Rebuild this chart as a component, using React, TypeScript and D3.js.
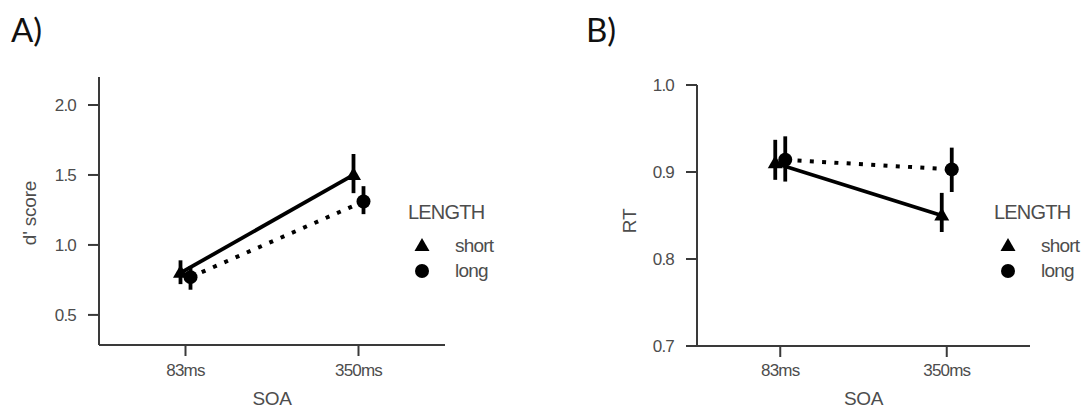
import React from "react";
import * as d3 from "d3";

// SOA conditions and word-length groups
const soaLevels = ["83ms", "350ms"];
const lengthLevels = ["short", "long"];

// Panel A: d' score (mean, lower CI, upper CI) per SOA
const dprimeShortMean = [0.8, 1.5];
const dprimeShortLow = [0.72, 1.37];
const dprimeShortHigh = [0.89, 1.65];
const dprimeLongMean = [0.77, 1.31];
const dprimeLongLow = [0.68, 1.22];
const dprimeLongHigh = [0.85, 1.42];
const dprimeTicks = [0.5, 1.0, 1.5, 2.0];

// Panel B: reaction time (s)
const rtShortMean = [0.91, 0.85];
const rtShortLow = [0.891, 0.831];
const rtShortHigh = [0.937, 0.876];
const rtLongMean = [0.914, 0.903];
const rtLongLow = [0.889, 0.877];
const rtLongHigh = [0.941, 0.928];
const rtTicks = [0.7, 0.8, 0.9, 1.0];

type Series = { key: string; mean: number[]; low: number[]; high: number[] };

const FONT = "'Liberation Sans', Arial, sans-serif";
const AXIS = "#3a3a3a";
const TEXT = "#4d4d4d";

function Marker({ kind, x, y }: { kind: string; x: number; y: number }) {
  if (kind === "short") {
    const s = 15;
    const h = (s * Math.sqrt(3)) / 2;
    const p = `M${x},${y - h * 0.62} L${x + s / 2},${y + h * 0.38} L${x - s / 2},${y + h * 0.38} Z`;
    return <path d={p} fill="#000" />;
  }
  return <circle cx={x} cy={y} r={7} fill="#000" />;
}

function Panel(props: {
  left: number;
  right: number;
  top: number;
  bottom: number;
  domain: [number, number];
  ticks: number[];
  tickFormat: (v: number) => string;
  yLabel: string;
  yLabelX: number;
  yLabelY: number;
  series: Series[];
  letter: string;
  letterX: number;
  legendX: number;
}) {
  const { left, right, top, bottom, domain, ticks, tickFormat, series } = props;
  const x = d3.scalePoint<string>().domain(soaLevels).range([left, right]).padding(0.5);
  const y = d3.scaleLinear().domain(domain).range([bottom, top]);
  const dodge = (k: string) => (k === "short" ? -5 : 5);
  const line = d3.line<number>();

  return (
    <g>
      <text x={props.letterX} y={42} fontFamily="Lato, 'Open Sans', sans-serif" fontSize={33} fill="#111">
        {props.letter}
      </text>

      {/* axes */}
      <line x1={left} x2={left} y1={y(domain[1])} y2={bottom} stroke={AXIS} strokeWidth={2} />
      <line x1={left} x2={right} y1={bottom} y2={bottom} stroke={AXIS} strokeWidth={2} />
      {ticks.map((t) => (
        <g key={t}>
          <line x1={left - 11} x2={left} y1={y(t)} y2={y(t)} stroke={AXIS} strokeWidth={2} />
          <text
            x={left - 23}
            y={y(t)}
            dy="0.36em"
            textAnchor="end"
            fontFamily={FONT}
            fontSize={17}
            letterSpacing={-0.8}
            fill={TEXT}
          >
            {tickFormat(t)}
          </text>
        </g>
      ))}
      {soaLevels.map((s) => (
        <g key={s}>
          <line x1={x(s)!} x2={x(s)!} y1={bottom} y2={bottom + 11} stroke={AXIS} strokeWidth={2} />
          <text
            x={x(s)!}
            y={376}
            textAnchor="middle"
            fontFamily={FONT}
            fontSize={17}
            letterSpacing={-0.8}
            fill={TEXT}
          >
            {s}
          </text>
        </g>
      ))}
      <text
        x={(left + right) / 2}
        y={405}
        textAnchor="middle"
        fontFamily={FONT}
        fontSize={19}
        letterSpacing={-0.4}
        fill={TEXT}
      >
        SOA
      </text>
      <text
        transform={`translate(${props.yLabelX},${props.yLabelY}) rotate(-90)`}
        textAnchor="middle"
        dy="0.36em"
        fontFamily={FONT}
        fontSize={19}
        letterSpacing={-0.2}
        fill={TEXT}
      >
        {props.yLabel}
      </text>

      {/* connecting lines */}
      {series.map((sr) => (
        <path
          key={sr.key + "-line"}
          d={line(sr.mean.map((m, i) => [x(soaLevels[i])! + dodge(sr.key), y(m)]))!}
          fill="none"
          stroke="#000"
          strokeWidth={sr.key === "short" ? 3.8 : 4}
          strokeDasharray={sr.key === "short" ? undefined : "4 8.3"}
        />
      ))}

      {/* error bars and point markers */}
      {series.map((sr) =>
        sr.mean.map((m, i) => {
          const cx = x(soaLevels[i])! + dodge(sr.key);
          return (
            <g key={sr.key + i}>
              <line x1={cx} x2={cx} y1={y(sr.low[i])} y2={y(sr.high[i])} stroke="#000" strokeWidth={3.8} />
              <Marker kind={sr.key} x={cx} y={y(m)} />
            </g>
          );
        })
      )}

      {/* legend */}
      <text x={props.legendX} y={219} fontFamily={FONT} fontSize={20} letterSpacing={-0.8} fill={TEXT}>
        LENGTH
      </text>
      {lengthLevels.map((k, i) => (
        <g key={k}>
          <Marker kind={k} x={props.legendX + 14} y={246 + i * 25} />
          <text
            x={props.legendX + 47}
            y={246 + i * 25}
            dy="0.34em"
            fontFamily={FONT}
            fontSize={19}
            letterSpacing={-0.8}
            fill={TEXT}
          >
            {k}
          </text>
        </g>
      ))}
    </g>
  );
}

export default function App() {
  const dprimeSeries: Series[] = [
    { key: "short", mean: dprimeShortMean, low: dprimeShortLow, high: dprimeShortHigh },
    { key: "long", mean: dprimeLongMean, low: dprimeLongLow, high: dprimeLongHigh },
  ];
  const rtSeries: Series[] = [
    { key: "short", mean: rtShortMean, low: rtShortLow, high: rtShortHigh },
    { key: "long", mean: rtLongMean, low: rtLongLow, high: rtLongHigh },
  ];
  return (
    <svg
      width={1087}
      height={408}
      style={{ position: "absolute", left: 0, top: 0, background: "#fff" }}
    >
      <rect width={1087} height={408} fill="#fff" />
      <Panel
        left={99}
        right={445}
        top={77}
        bottom={345}
        domain={[0.285, 2.2]}
        ticks={dprimeTicks}
        tickFormat={d3.format(".1f")}
        yLabel="d' score"
        yLabelX={29}
        yLabelY={213}
        series={dprimeSeries}
        letter="A)"
        letterX={11}
        legendX={408}
      />
      <Panel
        left={697}
        right={1030}
        top={85}
        bottom={346}
        domain={[0.7, 1.0]}
        ticks={rtTicks}
        tickFormat={d3.format(".1f")}
        yLabel="RT"
        yLabelX={629}
        yLabelY={221}
        series={rtSeries}
        letter="B)"
        letterX={586}
        legendX={994}
      />
    </svg>
  );
}
